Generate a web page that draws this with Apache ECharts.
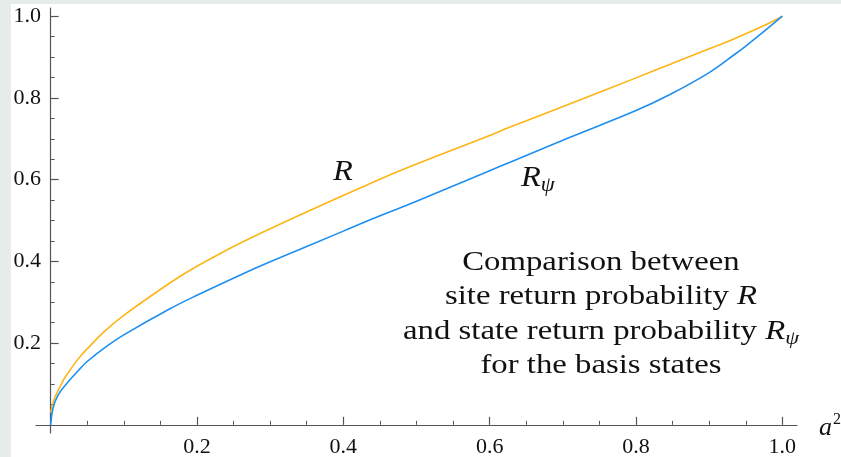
<!DOCTYPE html>
<html>
<head>
<meta charset="utf-8">
<script src="https://cdn.jsdelivr.net/npm/echarts@6/dist/echarts.min.js"></script>
<style>
  html, body { margin: 0; padding: 0; width: 841px; height: 457px; background: #e5ecea; overflow: hidden; }
  #main { position: absolute; left: 11px; top: 4px; width: 830px; height: 453px; }
</style>
</head>
<body>
<div id="main"></div>
<script>
// site return probability R
var rX = [0, 0.002, 0.006, 0.012, 0.02, 0.038, 0.05, 0.075, 0.1, 0.163, 0.2, 0.272, 0.436, 0.5, 0.6, 0.627, 0.709, 0.8, 0.845, 0.9, 0.936, 0.975, 1];
var rY = [0.03, 0.045, 0.068, 0.09, 0.117, 0.162, 0.186, 0.231, 0.268, 0.347, 0.388, 0.456, 0.59, 0.638, 0.708, 0.728, 0.785, 0.849, 0.881, 0.92, 0.946, 0.977, 1];
// state return probability R_psi
var psiX = [0, 0.0036, 0.01, 0.02, 0.038, 0.05, 0.075, 0.1, 0.163, 0.2, 0.272, 0.3, 0.4, 0.436, 0.5, 0.6, 0.627, 0.709, 0.8, 0.845, 0.9, 0.936, 0.95, 0.975, 1];
var psiY = [0, 0.043, 0.072, 0.097, 0.133, 0.155, 0.19, 0.22, 0.284, 0.317, 0.377, 0.399, 0.474, 0.501, 0.547, 0.622, 0.642, 0.703, 0.769, 0.807, 0.862, 0.908, 0.927, 0.963, 1];

var majorTicks = [0.2, 0.4, 0.6, 0.8, 1.0];
var minorTicks = [0.05, 0.1, 0.15, 0.25, 0.3, 0.35, 0.45, 0.5, 0.55, 0.65, 0.7, 0.75, 0.85, 0.9, 0.95];

var serif = '"Liberation Serif", "DejaVu Serif", serif';
var axisColor = '#555';

function pairs(xs, ys) {
  return xs.map(function (x, i) { return [x, ys[i]]; });
}

var chart = echarts.init(document.getElementById('main'));

function mainAxis(margin, extra) {
  var a = {
    type: 'value', min: -0.02, max: 1.02,
    axisLine: { onZero: true, lineStyle: { color: axisColor, width: 1.2 } },
    axisTick: { inside: true, length: 8, customValues: majorTicks, lineStyle: { color: axisColor, width: 1.2 } },
    axisLabel: {
      customValues: majorTicks, margin: margin,
      color: '#111', fontFamily: serif, fontSize: 22,
      formatter: function (v) { return v.toFixed(1); }
    },
    splitLine: { show: false }
  };
  return Object.assign(a, extra || {});
}

function minorAxis(extra) {
  var a = {
    type: 'value', min: -0.02, max: 1.02,
    axisLine: { show: false, onZero: true },
    axisTick: { inside: true, length: 4, customValues: minorTicks, lineStyle: { color: axisColor, width: 1 } },
    axisLabel: { show: false },
    splitLine: { show: false }
  };
  return Object.assign(a, extra || {});
}

chart.setOption({
  animation: false,
  backgroundColor: '#ffffff',
  grid: { left: 25, right: 44, top: 4, bottom: 24, outerBoundsMode: 'none' },
  xAxis: [
    mainAxis(3, {
      position: 'bottom',
      name: '{a|a}{s|2}',
      nameLocation: 'end',
      nameGap: 22,
      nameTextStyle: {
        rich: {
          a: { fontFamily: serif, fontStyle: 'italic', fontSize: 26, color: '#111', lineHeight: 30, verticalAlign: 'bottom', padding: [0, 1, 0, 0] },
          s: { fontFamily: serif, fontSize: 16, color: '#111', lineHeight: 14, verticalAlign: 'top' }
        },
        padding: [3, 0, 0, 0]
      }
    }),
    minorAxis({ position: 'bottom' })
  ],
  yAxis: [
    mainAxis(-5, { position: 'left' }),
    minorAxis({ position: 'left' })
  ],
  series: [
    {
      name: 'R', type: 'line', xAxisIndex: 0, yAxisIndex: 0,
      data: pairs(rX, rY), showSymbol: false, smooth: 0.4,
      lineStyle: { color: '#fdb515', width: 1.6 }, itemStyle: { color: '#fdb515' }
    },
    {
      name: 'Rpsi', type: 'line', xAxisIndex: 0, yAxisIndex: 0,
      data: pairs(psiX, psiY), showSymbol: false, smooth: 0.4,
      lineStyle: { color: '#1e8ff0', width: 1.6 }, itemStyle: { color: '#1e8ff0' }
    }
  ],
  graphic: [
    {
      type: 'text', x: 332, y: 168, scaleX: 1.12, silent: true,
      style: {
        text: 'R', fill: '#111', font: 'italic 29px ' + serif,
        align: 'center', verticalAlign: 'middle', textAlign: 'center', textVerticalAlign: 'middle'
      }
    },
    {
      type: 'text', x: 510, y: 174, scaleX: 1.12, silent: true,
      style: {
        text: '{r|R}{s|ψ}', fill: '#111', font: 'italic 29px ' + serif,
        align: 'left', verticalAlign: 'middle', textAlign: 'left', textVerticalAlign: 'middle',
        rich: {
          r: { fontFamily: serif, fontStyle: 'italic', fontSize: 29, lineHeight: 36, fill: '#111', verticalAlign: 'middle' },
          s: { fontFamily: serif, fontStyle: 'italic', fontSize: 20, lineHeight: 20, fill: '#111', verticalAlign: 'bottom' }
        }
      }
    },
    {
      type: 'text', x: 590, y: 310, scaleX: 1.17, silent: true,
      style: {
        text: 'Comparison between\nsite return probability {i|R}\nand state return probability {i|R}{s|ψ}\nfor the basis states',
        fill: '#111', fontFamily: serif, fontSize: 28, lineHeight: 34.5,
        align: 'center', verticalAlign: 'middle', textAlign: 'center', textVerticalAlign: 'middle',
        rich: {
          i: { fontFamily: serif, fontStyle: 'italic', fontSize: 28, lineHeight: 34.5, fill: '#111' },
          s: { fontFamily: serif, fontStyle: 'italic', fontSize: 19, lineHeight: 19, fill: '#111', verticalAlign: 'bottom' }
        }
      }
    }
  ]
});
</script>
</body>
</html>
